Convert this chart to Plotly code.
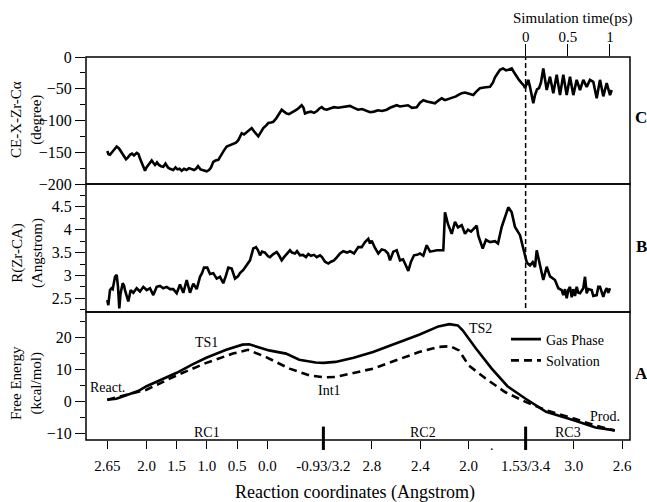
import plotly.graph_objects as go

# ---------------- axis segment definitions ----------------
# each reaction-coordinate segment: (name, start value, end value, path units per Angstrom)
SEGMENTS = [("RC1", 2.65, -0.93, 60.36), ("RC2", 3.2, 1.53, 121.1), ("RC3", 3.4, 2.55, 120.5)]
PATH_START = 107.3
PATH_RANGE = [86, 630]
TIME_SCALE = 84.3  # path units per ps

SEG = {}
_p = PATH_START
for name, r0, r1, k in SEGMENTS:
    SEG[name] = (r0, _p, k)
    _p = _p + (r0 - r1) * k


def pos(seg, r):
    r0, p0, k = SEG[seg]
    return p0 + (r0 - r) * k


def pos_list(seg, vals):
    return [pos(seg, v) for v in vals]


TIME0 = pos("RC2", 1.53)

# ---------------- tick labels ----------------
rc1_ticks = [2.65, 2.0, 1.5, 1.0, 0.5, 0.0]
rc1_labels = ["2.65", "2.0", "1.5", "1.0", "0.5", "0.0"]
rc2_ticks = [2.8, 2.4, 2.0]
rc2_labels = ["2.8", "2.4", "2.0"]
rc3_ticks = [3.0, 2.6]
rc3_labels = ["3.0", "2.6"]
boundary_labels = ["-0.93/3.2", "1.53/3.4"]
time_ticks = [0, 0.5, 1]
time_labels = ["0", "0.5", "1"]

# ---------------- Panel A: free energy ----------------
gas_rc1_x = [2.65, 2.5, 2.3, 2.14, 2.0, 1.78, 1.5, 1.23, 1.01, 0.68, 0.41, 0.30, 0.16, -0.03, -0.31, -0.53, -0.80, -0.93]
gas_rc1_y = [0.6, 0.9, 2.2, 3.3, 4.8, 6.7, 9.0, 11.7, 13.7, 16.2, 17.8, 17.9, 17.1, 16.0, 15.0, 13.1, 12.2, 12.1]
gas_rc2_x = [3.1, 2.95, 2.79, 2.60, 2.41, 2.25, 2.16, 2.09, 2.05, 1.94, 1.81, 1.68, 1.53]
gas_rc2_y = [12.4, 13.7, 15.5, 18.1, 20.9, 23.5, 24.2, 23.8, 22.3, 16.6, 10.3, 4.8, 0.9]
gas_rc3_x = [3.23, 3.0, 2.82, 2.66]
gas_rc3_y = [-3.2, -5.8, -8.1, -9.0]

solv_rc1_x = [2.65, 2.0, 1.5, 1.01, 0.57, 0.32, 0.02, -0.37, -0.70, -0.93]
solv_rc1_y = [0.6, 3.7, 8.2, 12.1, 15.0, 16.2, 13.9, 10.3, 8.2, 7.6]
solv_rc2_x = [3.1, 2.95, 2.79, 2.60, 2.41, 2.25, 2.15, 2.08, 2.0, 1.86, 1.70, 1.53]
solv_rc2_y = [7.7, 9.0, 10.3, 12.9, 15.5, 17.1, 17.3, 16.0, 11.3, 7.2, 3.0, -0.1]
solv_rc3_x = [3.23, 3.0, 2.82, 2.66]
solv_rc3_y = [-2.7, -5.3, -7.5, -9.0]

# ---------------- Panel C: dihedral CE-X-Zr-Ca (path position, degree) ----------------
c_path = [107.3, 108.5, 110, 112, 114, 116.7, 119, 121.7, 124, 126, 128, 130, 132, 134, 136.7, 138.5, 140, 141.7,
          143.5, 145, 146.5, 148.3, 150, 151.7, 153.5, 155, 157, 159, 161, 163.3, 165.5, 168, 170, 173.3, 175.5,
          177.5, 179.5, 181.7, 184, 186.5, 189, 191.5, 194, 196, 198, 200.5, 203, 206.7, 209, 211, 213.3, 215.5,
          218.3, 220, 221.7, 224, 226.7, 230, 233.3, 236, 238.3, 240, 241.7, 244, 246.7, 249, 251.7, 254, 256,
          258.3, 261, 263.3, 266, 268.3, 271, 273.3, 276, 278, 281.7, 284, 286.7, 289, 291.5, 294, 296.7, 299,
          301.7, 303.5, 305, 308, 311, 314, 317, 319.5, 321.7, 324, 326.7, 330, 334, 338, 342, 346, 350, 354, 358,
          362, 366, 370, 374, 378, 382, 386.7, 390, 393, 396.7, 400, 404, 408, 412, 416.7, 420, 423.3, 427, 431,
          435, 438, 441.7, 445, 449, 452, 456, 458, 461.7, 465, 469, 473.3, 476, 480, 484, 490, 493, 495, 497.5,
          500, 503, 506, 508.3, 511.7, 514, 516.7, 519, 521.7, 524, 525, 526.5, 528.3, 530, 532, 533.3, 535, 537,
          539, 541, 543.3, 545, 546.7, 550, 553.3, 556.7, 560, 563.3, 566.7, 570, 573.3, 576.7, 580, 583.3, 586.7,
          590, 593.3, 596.7, 600, 603.3, 606.7, 610, 611.7]
c_angle = [-148, -153, -154, -150, -145, -141, -144, -151, -157, -161, -158, -154, -152, -155, -151, -153, -160, -167,
           -173, -179, -174, -170, -166, -163, -167, -170, -166, -170, -172, -173, -168, -174, -176, -178, -174,
           -177, -176, -179, -176, -178, -175, -177, -178, -176, -172, -177, -178, -180, -178, -174, -165, -163,
           -162, -157, -152, -147, -141, -139, -137, -135, -131, -125, -120, -122, -118, -115, -112, -117, -121,
           -125, -118, -112, -108, -104, -103, -102, -97, -92, -83, -86, -89, -90, -88, -85, -83, -80,
           -76, -80, -89, -87, -86, -88, -85, -81, -79, -82, -83, -81, -79, -80, -79, -78, -77, -80, -83,
           -82, -85, -87, -86, -84, -85, -83, -80, -78, -76, -78, -77, -76, -80, -79, -72, -68, -70, -71,
           -73, -69, -65, -68, -66, -64, -62, -60, -57, -56, -58, -60, -55, -49, -48, -47, -40, -32, -26,
           -20, -18, -21, -20, -18, -24, -31, -36, -41, -45, -49, -44, -36, -47, -63, -73, -60, -51,
           -49, -40, -18, -38, -52, -31, -57, -28, -60, -28, -60, -31, -60, -36, -52, -36, -47,
           -36, -39, -65, -36, -62, -41, -60, -52]

# ---------------- Panel B: R(Zr-CA) (path position, Angstrom) ----------------
b_path = [107.3, 108.3, 110, 111.5, 112.7, 115, 116.7, 118, 119.3, 120.5, 122.7, 124, 125, 126.7, 128.3, 130.7,
          133.3, 136.7, 140, 143.3, 146.7, 150, 153.3, 156.7, 160, 163.3, 166.7, 170, 173.3, 176.7, 180, 183.3,
          186.7, 190, 193.3, 196.7, 200, 202, 204, 207.3, 210, 213.3, 216.7, 220, 223.3, 226, 228.3, 231.7, 235,
          238, 240, 243.3, 246.7, 250, 253.3, 256, 258, 260, 262, 265, 268, 270, 273, 276.7, 279, 281.7, 284,
          286.7, 290, 292, 295, 297, 300, 303, 306, 308.3, 311, 314, 316.7, 320, 322, 325, 328.3, 331, 334, 337,
          340, 343.3, 347, 350, 354, 358.3, 361.7, 365, 368.3, 370, 371.7, 375, 378.3, 381.7, 385, 388, 390,
          393.3, 396.7, 400, 403, 405, 408.3, 411, 414, 417, 420, 423.3, 426.7, 430, 433.3, 437, 440, 443.3,
          445, 448, 451.7, 455, 458, 461.7, 465, 468, 471, 473.3, 476.7, 478.3, 482.7, 486, 490, 495, 498,
          501.7, 505, 508.3, 511.7, 515, 520, 525, 526.7, 528.3, 530, 532.7, 535, 536.7, 540, 543.3, 546.7,
          550, 555, 558.3, 561.7, 563.3, 565, 566.7, 568.3, 570, 571.7, 573.3, 575, 576.7, 578.3, 580, 583.3,
          585, 586.7, 588.3, 591.7, 593.3, 596.7, 598.3, 600, 603.3, 605, 606.7, 608.3, 610]
b_dist = [2.46, 2.35, 2.68, 2.72, 2.70, 2.97, 3.01, 2.75, 2.28, 2.60, 2.83, 2.78, 2.68, 2.55, 2.43, 2.68,
          2.62, 2.72, 2.65, 2.75, 2.68, 2.72, 2.57, 2.75, 2.77, 2.72, 2.75, 2.70, 2.70, 2.61, 2.80, 2.62,
          2.90, 2.62, 2.82, 2.70, 2.97, 3.05, 3.17, 3.17, 3.03, 3.05, 2.93, 2.97, 2.83, 3.00, 3.17, 3.15, 2.93,
          2.98, 3.05, 3.12, 3.22, 3.33, 3.59, 3.62, 3.55, 3.44, 3.52, 3.50, 3.42, 3.40, 3.46, 3.51, 3.44, 3.33, 3.40,
          3.47, 3.55, 3.50, 3.48, 3.53, 3.44, 3.45, 3.40, 3.47, 3.43, 3.45, 3.40, 3.44, 3.40, 3.30, 3.26, 3.30, 3.33, 3.40,
          3.48, 3.53, 3.50, 3.53, 3.48, 3.62, 3.62, 3.73, 3.80, 3.70, 3.76, 3.60, 3.48, 3.57, 3.55, 3.48, 3.33,
          3.52, 3.55, 3.33, 3.35, 3.26, 3.10, 3.30, 3.44, 3.45, 3.48, 3.43, 3.66, 3.52, 3.54, 3.55, 3.55, 3.55,
          4.38, 4.12, 3.91, 4.17, 4.05, 4.10, 3.91, 4.00, 3.96, 4.02, 4.09, 3.87, 3.59, 3.78, 3.73, 3.75, 3.70,
          4.06, 4.27, 4.49, 4.38, 4.06, 3.88, 3.40, 3.29, 3.25, 3.22, 3.29, 3.18, 3.55, 3.24, 2.90, 3.19,
          2.98, 2.90, 2.72, 2.68, 2.57, 2.70, 2.50, 2.68, 2.75, 2.52, 2.70, 2.55, 2.75, 2.62, 2.61, 2.72,
          2.97, 2.61, 2.70, 2.68, 2.55, 2.57, 2.75, 2.75, 2.53, 2.65, 2.72, 2.62, 2.72]

# ---------------- build ----------------
gas_x = pos_list("RC1", gas_rc1_x) + pos_list("RC2", gas_rc2_x) + pos_list("RC3", gas_rc3_x)
gas_y = gas_rc1_y + gas_rc2_y + gas_rc3_y
solv_x = pos_list("RC1", solv_rc1_x) + pos_list("RC2", solv_rc2_x) + pos_list("RC3", solv_rc3_x)
solv_y = solv_rc1_y + solv_rc2_y + solv_rc3_y

B1 = pos("RC1", -0.93)
B2 = pos("RC2", 1.53)
tickvals = pos_list("RC1", rc1_ticks) + [B1] + pos_list("RC2", rc2_ticks) + [B2] + pos_list("RC3", rc3_ticks)
ticktext = rc1_labels + [boundary_labels[0]] + rc2_labels + [boundary_labels[1]] + rc3_labels

FONT = "Liberation Serif, Times New Roman, serif"
BLACK = "black"
LW = 2.6

fig = go.Figure()
fig.add_trace(go.Scatter(x=c_path, y=c_angle, xaxis="x", yaxis="y3", mode="lines",
                         line=dict(color=BLACK, width=LW), showlegend=False))
fig.add_trace(go.Scatter(x=b_path, y=b_dist, xaxis="x", yaxis="y2", mode="lines",
                         line=dict(color=BLACK, width=LW), showlegend=False))
fig.add_trace(go.Scatter(x=gas_x, y=gas_y, xaxis="x", yaxis="y", mode="lines", name="Gas Phase",
                         line=dict(color=BLACK, width=LW)))
fig.add_trace(go.Scatter(x=solv_x, y=solv_y, xaxis="x", yaxis="y", mode="lines", name="Solvation",
                         line=dict(color=BLACK, width=LW, dash="8px,5px")))

dA, dB = 128 / 383, 256 / 383
yax_common = dict(ticks="outside", ticklen=10, tickwidth=1.2, tickcolor=BLACK, showgrid=False,
                  zeroline=False, showline=False, tickfont=dict(family=FONT, size=16, color=BLACK))

fig.update_layout(
    width=647, height=502,
    margin=dict(l=86, r=17, t=57, b=62),
    paper_bgcolor="white", plot_bgcolor="white",
    font=dict(family=FONT, size=14, color=BLACK),
    xaxis=dict(range=PATH_RANGE, anchor="y", tickvals=tickvals, ticktext=ticktext,
               ticks="outside", ticklen=8, tickwidth=1.2, tickcolor=BLACK, showgrid=False,
               zeroline=False, showline=False, ticklabelstandoff=4,
               tickfont=dict(family=FONT, size=15, color=BLACK)),
    xaxis2=dict(range=[(PATH_RANGE[0] - TIME0) / TIME_SCALE, (PATH_RANGE[1] - TIME0) / TIME_SCALE],
                overlaying="x", anchor="y3", side="top", tickvals=time_ticks, ticktext=time_labels,
                ticks="outside", ticklen=12, tickwidth=1.2, tickcolor=BLACK, showgrid=False,
                zeroline=False, showline=False, ticklabelstandoff=-4,
                tickfont=dict(family=FONT, size=15, color=BLACK)),
    yaxis=dict(domain=[0, dA], range=[-12, 28], tickvals=[-10, 0, 10, 20],
               minor=dict(ticks="outside", ticklen=5, dtick=5, tick0=0, tickcolor=BLACK, showgrid=False),
               **yax_common),
    yaxis2=dict(domain=[dA, dB], range=[2.2, 5.0], tickvals=[2.5, 3, 3.5, 4, 4.5],
                ticktext=["2.5", "3", "3.5", "4", "4.5"],
                minor=dict(ticks="outside", ticklen=5, dtick=0.25, tick0=0, tickcolor=BLACK, showgrid=False),
                **yax_common),
    yaxis3=dict(domain=[dB, 1], range=[-200, 0], tickvals=[-200, -150, -100, -50, 0],
                minor=dict(ticks="outside", ticklen=5, dtick=25, tick0=0, tickcolor=BLACK, showgrid=False),
                **yax_common),
    legend=dict(x=0.772, y=0.304, xanchor="left", yanchor="top", bgcolor="rgba(0,0,0,0)",
                font=dict(family=FONT, size=14, color=BLACK), tracegroupgap=0),
)

shapes = []
for yr in ["y domain", "y2 domain", "y3 domain"]:
    shapes.append(dict(type="rect", xref="paper", yref=yr, x0=0, x1=1, y0=0, y1=1,
                       line=dict(color=BLACK, width=1.5)))
# dashed marker at simulation time 0
shapes.append(dict(type="line", xref="x2", yref="paper", x0=0, x1=0, y0=(440 - 308) / 383, y1=1,
                   line=dict(color=BLACK, width=1.5, dash="5px,3px")))
# segment boundary ticks
for bx in [B1, B2]:
    shapes.append(dict(type="line", xref="x", yref="paper", x0=bx, x1=bx, y0=-0.026, y1=0.035,
                       line=dict(color=BLACK, width=3)))
fig.update_layout(shapes=shapes)

ann = []
def txt(x, y, t, xref="x", yref="y", size=14, **kw):
    ann.append(dict(x=x, y=y, xref=xref, yref=yref, text=t, showarrow=False,
                    xanchor="center", yanchor="middle",
                    font=dict(family=FONT, size=size, color=BLACK), **kw))

txt(pos("RC1", 2.65), 4.4, "React.")
txt(pos("RC1", 1.0), 18.6, "TS1")
txt(pos("RC2", 3.15), 3.5, "Int1")
txt(pos("RC2", 1.9), 22.8, "TS2")
txt(pos("RC3", 2.74), -4.8, "Prod.")
txt(pos("RC1", 1.0), -9.8, "RC1")
txt(pos("RC2", 2.38), -9.8, "RC2")
txt(pos("RC3", 3.05), -9.8, "RC3")
txt(pos("RC2", 1.81), -0.015, ".", yref="paper")

txt((26 - 86) / 544, (440 - 120) / 383, "CE-X-Zr-Cα<br>(degree)", xref="paper", yref="paper", size=15, textangle=-90)
txt((27 - 86) / 544, (440 - 253) / 383, "R(Zr-CA)<br>(Angstrom)", xref="paper", yref="paper", size=15, textangle=-90)
txt((26 - 86) / 544, (440 - 383) / 383, "Free Energy<br>(kcal/mol)", xref="paper", yref="paper", size=15, textangle=-90)

txt((641 - 86) / 544, (440 - 117) / 383, "<b>C</b>", xref="paper", yref="paper", size=17)
txt((641 - 86) / 544, (440 - 246) / 383, "<b>B</b>", xref="paper", yref="paper", size=17)
txt((641 - 86) / 544, (440 - 373) / 383, "<b>A</b>", xref="paper", yref="paper", size=17)

txt((573.3 - 86) / 544, (440 - 19) / 383, "Simulation time(ps)", xref="paper", yref="paper", size=15)
txt((355 - 86) / 544, (440 - 492) / 383, "Reaction coordinates (Angstrom)", xref="paper", yref="paper", size=18)

fig.update_layout(annotations=ann)
fig.write_html("out.html")
